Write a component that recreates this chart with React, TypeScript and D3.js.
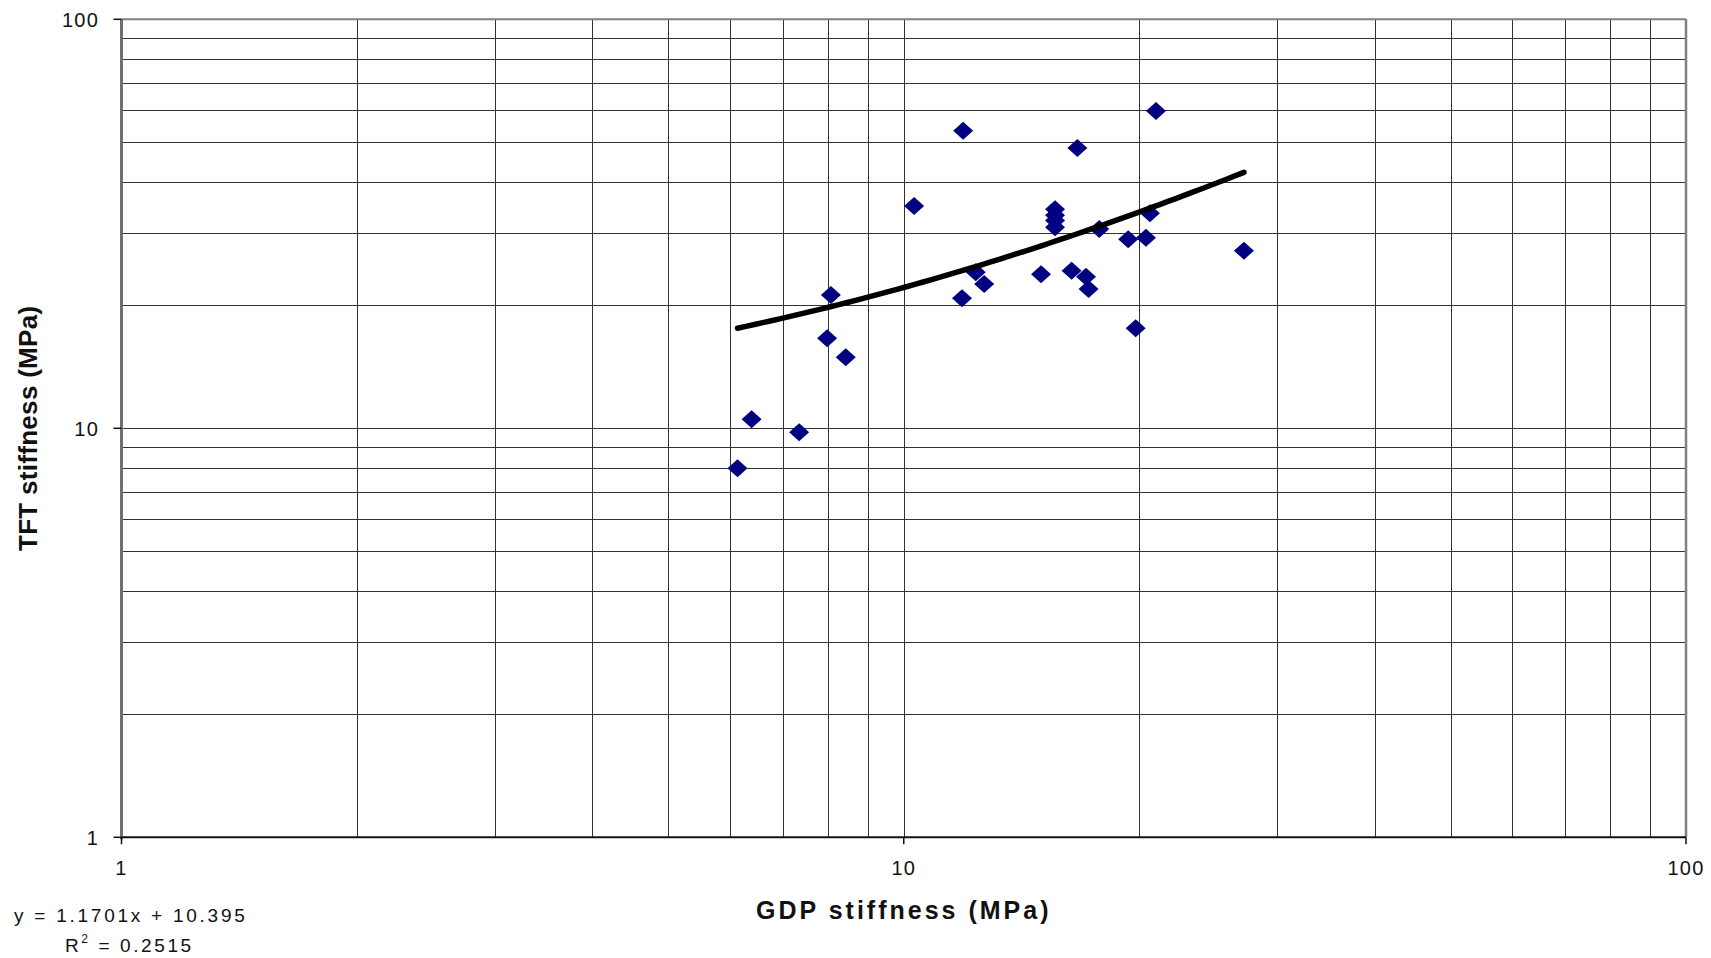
import React from "react";
import * as d3 from "d3";

// GDP stiffness (MPa)
const gdpValues: number[] = [
  11.91, 16.67, 21.01, 10.31, 15.61, 15.61, 15.61, 15.61, 17.78, 20.64,
  19.36, 20.4, 19.79, 12.36, 12.67, 11.87, 14.98, 16.39, 17.1, 17.23,
  8.07, 7.98, 8.43, 27.22, 6.39, 7.35, 6.13,
];
// TFT stiffness (MPa)
const tftValues: number[] = [
  53.4, 48.45, 59.7, 34.96, 34.3, 33.2, 32.2, 31.0, 30.7, 33.56,
  29.0, 29.25, 17.56, 24.07, 22.54, 20.79, 23.8, 24.29, 23.48, 21.9,
  21.18, 16.6, 14.92, 27.18, 10.52, 9.78, 7.99,
];

// Linear trendline as labelled in the chart
const trendSlope = 1.1701;
const trendIntercept = 10.395;
const trendLabel = "y = 1.1701x + 10.395";
const r2Value = "0.2515";

const xTickLabels = [1, 10, 100];
const yTickLabels = [1, 10, 100];
const gridDecades = [1, 10];
const gridSteps = [1, 2, 3, 4, 5, 6, 7, 8, 9];

const W = 1711;
const H = 958;
const left = 121.5;
const right = 1686;
const top = 19.3;
const bottom = 837.3;

export default function App() {
  const x = d3.scaleLog().domain([1, 100]).range([left, right]);
  const y = d3.scaleLog().domain([1, 100]).range([bottom, top]);

  const gridVals: number[] = [];
  gridDecades.forEach((d) => gridSteps.forEach((s) => gridVals.push(d * s)));
  gridVals.push(100);

  const xMin = d3.min(gdpValues) as number;
  const xMax = d3.max(gdpValues) as number;
  const trendXs = d3.range(0, 61).map((i) => xMin * Math.pow(xMax / xMin, i / 60));
  const trendPath = d3
    .line<number>()
    .x((v) => x(v))
    .y((v) => y(trendSlope * v + trendIntercept))
    .curve(d3.curveLinear)(trendXs);

  const diamond = (cx: number, cy: number) =>
    `M${cx},${cy - 9} L${cx + 10},${cy} L${cx},${cy + 9} L${cx - 10},${cy} Z`;

  const font = "Arial, 'Liberation Sans', Helvetica, sans-serif";

  return (
    <svg
      width={W}
      height={H}
      style={{ position: "absolute", left: 0, top: 0, background: "#fff" }}
      fontFamily={font}
    >
      <rect x={0} y={0} width={W} height={H} fill="#fff" />
      {/* horizontal grid */}
      {gridVals
        .filter((v) => v > 1 && v < 100)
        .map((v) => (
          <line
            key={"h" + v}
            x1={left}
            x2={right}
            y1={Math.round(y(v)) + 0.5}
            y2={Math.round(y(v)) + 0.5}
            stroke="#333"
            strokeWidth={1}
          />
        ))}
      {/* vertical grid */}
      {gridVals
        .filter((v) => v > 1 && v < 100)
        .map((v) => (
          <line
            key={"v" + v}
            x1={Math.round(x(v)) + 0.5}
            x2={Math.round(x(v)) + 0.5}
            y1={top}
            y2={bottom}
            stroke="#333"
            strokeWidth={1}
          />
        ))}
      {/* frame */}
      <line x1={left} x2={right} y1={top} y2={top} stroke="#808080" strokeWidth={2} />
      <line x1={right} x2={right} y1={top} y2={bottom} stroke="#808080" strokeWidth={2.5} />
      <line x1={left} x2={left} y1={top} y2={bottom + 2} stroke="#707070" strokeWidth={3} />
      <line x1={left} x2={right} y1={bottom} y2={bottom} stroke="#111" strokeWidth={2} />

      {/* ticks */}
      {yTickLabels.map((v) => (
        <g key={"yt" + v}>
          <line x1={left - 8} x2={left} y1={y(v)} y2={y(v)} stroke="#111" strokeWidth={1.5} />
          <text
            x={99}
            y={y(v)}
            dy="0.36em"
            textAnchor="end"
            fontSize={20}
            letterSpacing={1.2}
            fill="#111"
          >
            {v}
          </text>
        </g>
      ))}
      {xTickLabels.map((v) => (
        <g key={"xt" + v}>
          <line x1={x(v)} x2={x(v)} y1={bottom} y2={bottom + 7} stroke="#111" strokeWidth={1.5} />
          <text
            x={x(v)}
            y={875}
            textAnchor="middle"
            fontSize={20}
            letterSpacing={1.2}
            fill="#111"
          >
            {v}
          </text>
        </g>
      ))}

      {/* points */}
      {gdpValues.map((g, i) => (
        <path key={"p" + i} d={diamond(x(g), y(tftValues[i]))} fill="#000080" />
      ))}

      {/* trendline */}
      <path
        d={trendPath || ""}
        fill="none"
        stroke="#000"
        strokeWidth={5.5}
        strokeLinecap="round"
      />

      {/* axis titles */}
      <text
        x={(left + right) / 2}
        y={919}
        textAnchor="middle"
        fontSize={25}
        fontWeight="bold"
        letterSpacing={3}
        fill="#111"
      >
        GDP stiffness (MPa)
      </text>
      <text
        transform={`translate(37, ${(top + bottom) / 2}) rotate(-90)`}
        textAnchor="middle"
        fontSize={26}
        fontWeight="bold"
        letterSpacing={0.3}
        fill="#111"
      >
        TFT stiffness (MPa)
      </text>

      {/* trend equation */}
      <text x={14} y={922} fontSize={19} letterSpacing={2.75} fill="#111">
        {trendLabel}
      </text>
      <text x={65} y={952} fontSize={19} letterSpacing={2.6} fill="#111">
        R
        <tspan dy={-9} fontSize={12}>
          2
        </tspan>
        <tspan dy={9}> = {r2Value}</tspan>
      </text>
    </svg>
  );
}
